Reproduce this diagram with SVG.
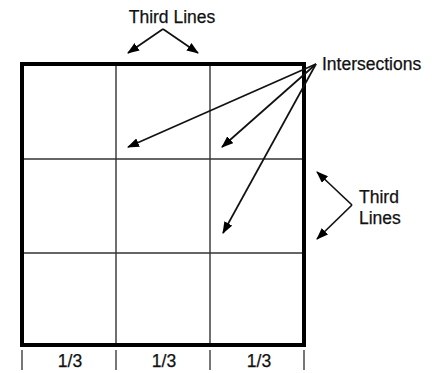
<svg xmlns="http://www.w3.org/2000/svg" width="438" height="373" viewBox="0 0 438 373">
<style>
text{font-family:"Liberation Sans",Arial,sans-serif;fill:#111;font-size:17.5px;stroke:#111;stroke-width:0.25}
.grid{stroke:#333;stroke-width:1.4;fill:none}
.frame{stroke:#000;stroke-width:4;fill:none}
.tick{stroke:#555;stroke-width:1.6}
.arr{stroke:#111;stroke-width:1.7;fill:none;marker-end:url(#ah)}
</style>
<defs>
<marker id="ah" viewBox="0 0 12 9" refX="11" refY="4.5" markerWidth="12" markerHeight="9" markerUnits="userSpaceOnUse" orient="auto">
<path d="M0,0 L12,4.5 L0,9 Z" fill="#000"/>
</marker>
</defs>
<rect width="438" height="373" fill="#fff"/>
<g id="grid">
<line class="grid" x1="116" y1="64" x2="116" y2="345"/>
<line class="grid" x1="210" y1="64" x2="210" y2="345"/>
<line class="grid" x1="22" y1="159" x2="304" y2="159"/>
<line class="grid" x1="22" y1="253" x2="304" y2="253"/>
<rect class="frame" x="22" y="64" width="282" height="281"/>
</g>
<g id="ticks">
<line class="tick" x1="22" y1="350" x2="22" y2="370"/>
<line class="tick" x1="116" y1="350" x2="116" y2="370"/>
<line class="tick" x1="210" y1="350" x2="210" y2="370"/>
<line class="tick" x1="304" y1="350" x2="304" y2="370"/>
</g>
<g id="labels">
<text x="172" y="23" text-anchor="middle">Third Lines</text>
<text x="322" y="70">Intersections</text>
<text x="359" y="203">Third</text>
<text x="359" y="224">Lines</text>
<text x="70" y="367" text-anchor="middle">1/3</text>
<text x="164" y="367" text-anchor="middle">1/3</text>
<text x="259" y="367" text-anchor="middle">1/3</text>
</g>
<g id="connectors">
<path class="arr" d="M163,29 L128,53"/>
<path class="arr" d="M163,29 L198,53"/>
<path class="arr" d="M316,64 L128,147"/>
<path class="arr" d="M316,64 L222,147"/>
<path class="arr" d="M316,64 L223,233"/>
<path class="arr" d="M352,205 L317,172"/>
<path class="arr" d="M352,205 L317,239"/>
</g>
</svg>
